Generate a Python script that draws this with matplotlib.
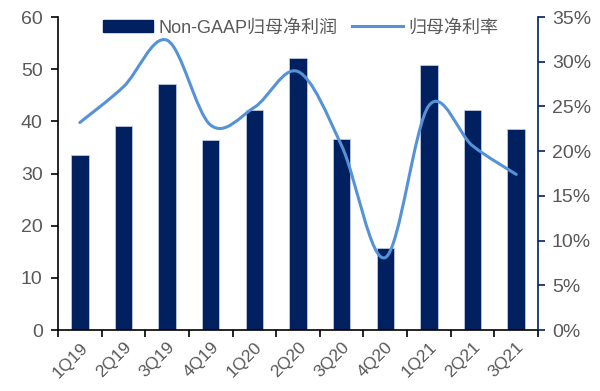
import matplotlib
matplotlib.use("Agg")
import matplotlib.pyplot as plt
from matplotlib.path import Path
from matplotlib.patches import PathPatch
from matplotlib.lines import Line2D
from matplotlib.patches import Patch
from matplotlib.ticker import FuncFormatter, FixedLocator

plt.rcParams['font.family'] = ['Liberation Sans', 'Noto Sans CJK SC', 'DejaVu Sans']

quarters = ["1Q19", "2Q19", "3Q19", "4Q19", "1Q20", "2Q20",
            "3Q20", "4Q20", "1Q21", "2Q21", "3Q21"]
profit = [33.5, 39.2, 47.2, 36.5, 42.1, 52.2, 36.7, 15.8, 50.8, 42.2, 38.5]
margin = [0.232, 0.272, 0.324, 0.229, 0.249, 0.289, 0.206, 0.081, 0.251, 0.206, 0.174]

navy = "#002060"
blue = "#5592d8"
grey = "#595959"

fig = plt.figure(figsize=(6, 3.91), dpi=100)
ax = fig.add_axes([0.0967, 0.156, 0.8, 0.8005])
ax2 = ax.twinx()

x = list(range(len(quarters)))
ax.bar(x, profit, width=0.4, color=navy, edgecolor="#c9d3e6", linewidth=0.5, zorder=2)
ax.set_xlim(-0.5, len(quarters) - 0.5)
ax.set_ylim(0, 60)
ax.set_yticks(range(0, 61, 10))

# Excel-style smoothed line: cubic Bezier segments through the data points
verts = [(x[0], margin[0])]
codes = [Path.MOVETO]
n = len(x)
for i in range(n - 1):
    p0 = (x[max(i - 1, 0)], margin[max(i - 1, 0)])
    p1 = (x[i], margin[i])
    p2 = (x[i + 1], margin[i + 1])
    p3 = (x[min(i + 2, n - 1)], margin[min(i + 2, n - 1)])
    c1 = (p1[0] + (p2[0] - p0[0]) / 6, p1[1] + (p2[1] - p0[1]) / 6)
    c2 = (p2[0] - (p3[0] - p1[0]) / 6, p2[1] - (p3[1] - p1[1]) / 6)
    verts += [c1, c2, p2]
    codes += [Path.CURVE4] * 3
ax2.add_patch(PathPatch(Path(verts, codes), facecolor="none", edgecolor=blue,
                        linewidth=2.2, capstyle="round", zorder=3))
ax2.set_ylim(0, 0.35)
ax2.set_yticks([i * 0.05 for i in range(8)])
ax2.yaxis.set_major_formatter(FuncFormatter(lambda v, p: f"{v * 100:.0f}%"))

# x axis: tick marks at category boundaries, labels at centers
ax.set_xticks(x)
ax.set_xticklabels(quarters, rotation=45, ha="right", rotation_mode="anchor")
ax.tick_params(axis="x", which="major", length=0, pad=7)
ax.xaxis.set_minor_locator(FixedLocator([i - 0.5 for i in range(n + 1)]))
ax.tick_params(axis="x", which="minor", length=5, width=1.2, color="black")

for a in (ax, ax2):
    a.spines["top"].set_visible(False)
ax.spines["right"].set_visible(False)
ax.spines["left"].set_linewidth(1.2)
ax.spines["bottom"].set_linewidth(1.2)
ax2.spines["left"].set_visible(False)
ax2.spines["bottom"].set_visible(False)
ax2.spines["right"].set_color(navy)
ax2.spines["right"].set_linewidth(1.2)

ax.tick_params(axis="y", length=5, width=1.2, labelsize=14, labelcolor=grey, pad=6)
ax.tick_params(axis="x", labelsize=12.5, labelcolor=grey)
ax2.tick_params(axis="y", length=5, width=1.2, color=navy, labelsize=14,
                labelcolor=grey, pad=5)

handles = [Patch(facecolor=navy, edgecolor=navy),
           Line2D([0], [0], color=blue, linewidth=2.2)]
ax.legend(handles, ["Non-GAAP归母净利润", "归母净利率"], loc="upper center",
          bbox_to_anchor=(0.505, 1.045), ncol=2, frameon=False, fontsize=13,
          labelcolor=grey, handlelength=2.8, columnspacing=0.8, handletextpad=0.3)

fig.savefig("out.png", dpi=100)
